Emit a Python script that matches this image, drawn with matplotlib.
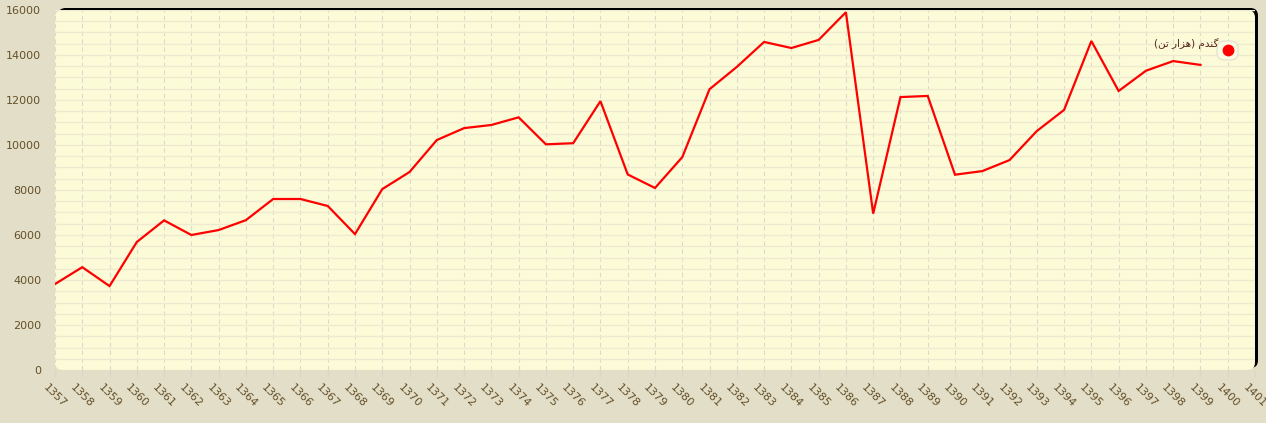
import matplotlib
matplotlib.use("Agg")
import matplotlib.pyplot as plt
from matplotlib.patches import FancyBboxPatch
from matplotlib.lines import Line2D
from matplotlib.ticker import MultipleLocator

# ---------------- data ----------------
years = list(range(1357, 1400))
wheat = [3820, 4570, 3730, 5690, 6650, 6000, 6220, 6660, 7600, 7600,
         7290, 6040, 8040, 8800, 10220, 10750, 10890, 11230, 10030, 10080,
         11950, 8690, 8090, 9460, 12480, 13470, 14580, 14310, 14670, 15900,
         6950, 12130, 12180, 8680, 8840, 9330, 10620, 11560, 14620, 12400,
         13300, 13730, 13560]
tick_years = list(range(1357, 1402))
tick_labels = [str(y) for y in tick_years]
y_ticks = list(range(0, 16001, 2000))
series_name = "گندم (هزار تن)"

# visual (pre-shaped, left-to-right) form of the series name for rendering
shaped_name = "(\uFEE6\uFE97 \uFEAD\uFE8D\uFEB0\uFEEB) \uFEE1\uFEAA\uFEE8\uFB94"

W, H = 1266, 423
fig = plt.figure(figsize=(W / 100, H / 100), dpi=100)
fig.patch.set_facecolor("#E3DEC8")

def fx(px):
    return px / W

def fy(py):
    return 1 - py / H

L, R, T, B = 55, 1255, 10, 370

# shadow/border (black) then cream plot background
shadow = FancyBboxPatch((fx(L + 3), fy(B - 2)), fx(R - L), (B - T) / H,
                        boxstyle="round,pad=0,rounding_size=0.006",
                        transform=fig.transFigure, facecolor="black",
                        edgecolor="none", zorder=-3,
                        mutation_aspect=W / H)
fig.patches.append(shadow)
bg = FancyBboxPatch((fx(L), fy(B)), fx(R - L), (B - T) / H,
                    boxstyle="round,pad=0,rounding_size=0.006",
                    transform=fig.transFigure, facecolor="#FCFBD8",
                    edgecolor="none", zorder=-2,
                    mutation_aspect=W / H)
fig.patches.append(bg)

ax = fig.add_axes([fx(L), fy(B), fx(R - L), (B - T) / H])
ax.set_facecolor("none")
ax.set_zorder(1)

ax.plot(years, wheat, color="#FF0000", lw=1.6, zorder=3, solid_joinstyle="miter")

ax.set_xlim(1357, 1401)
ax.set_ylim(0, 16000)

ax.set_xticks(tick_years)
ax.set_xticklabels(tick_labels, rotation=-45, ha="center", va="top",
                   fontsize=8, color="#64502A")
ax.set_yticks(y_ticks)
ax.set_yticklabels([str(v) for v in y_ticks], fontsize=8, color="#64502A")
ax.yaxis.set_minor_locator(MultipleLocator(500))

ax.tick_params(axis="y", which="both", length=0, pad=10)
ax.tick_params(axis="x", length=5, color="#DBD7C8", width=1, pad=4)

ax.grid(axis="y", which="both", color="#EDEAD0", lw=1, linestyle="-", zorder=0)
ax.grid(axis="x", which="major", color="#DDD9CB", lw=0.8, linestyle=(0, (4, 3)), zorder=0)
ax.set_axisbelow(True)
for s in ax.spines.values():
    s.set_visible(False)

# legend
leg_box = FancyBboxPatch((fx(1217), fy(60)), fx(21), 19 / H,
                         boxstyle="round,pad=0,rounding_size=0.006",
                         transform=fig.transFigure, facecolor="#FCFBE4",
                         edgecolor="#E2DECB", lw=0.8, zorder=5,
                         mutation_aspect=W / H)
fig.patches.append(leg_box)
fig.lines.append(Line2D([fx(1227.5)], [fy(50.5)], marker="o", markersize=7.5,
                        color="#FF0000", transform=fig.transFigure, zorder=6))
fig.text(fx(1218), fy(44), shaped_name, ha="right", va="center",
         fontsize=7.5, color="#5A2418", family=["DejaVu Sans"], zorder=6)

fig.savefig("out.png", dpi=100, facecolor=fig.get_facecolor())
